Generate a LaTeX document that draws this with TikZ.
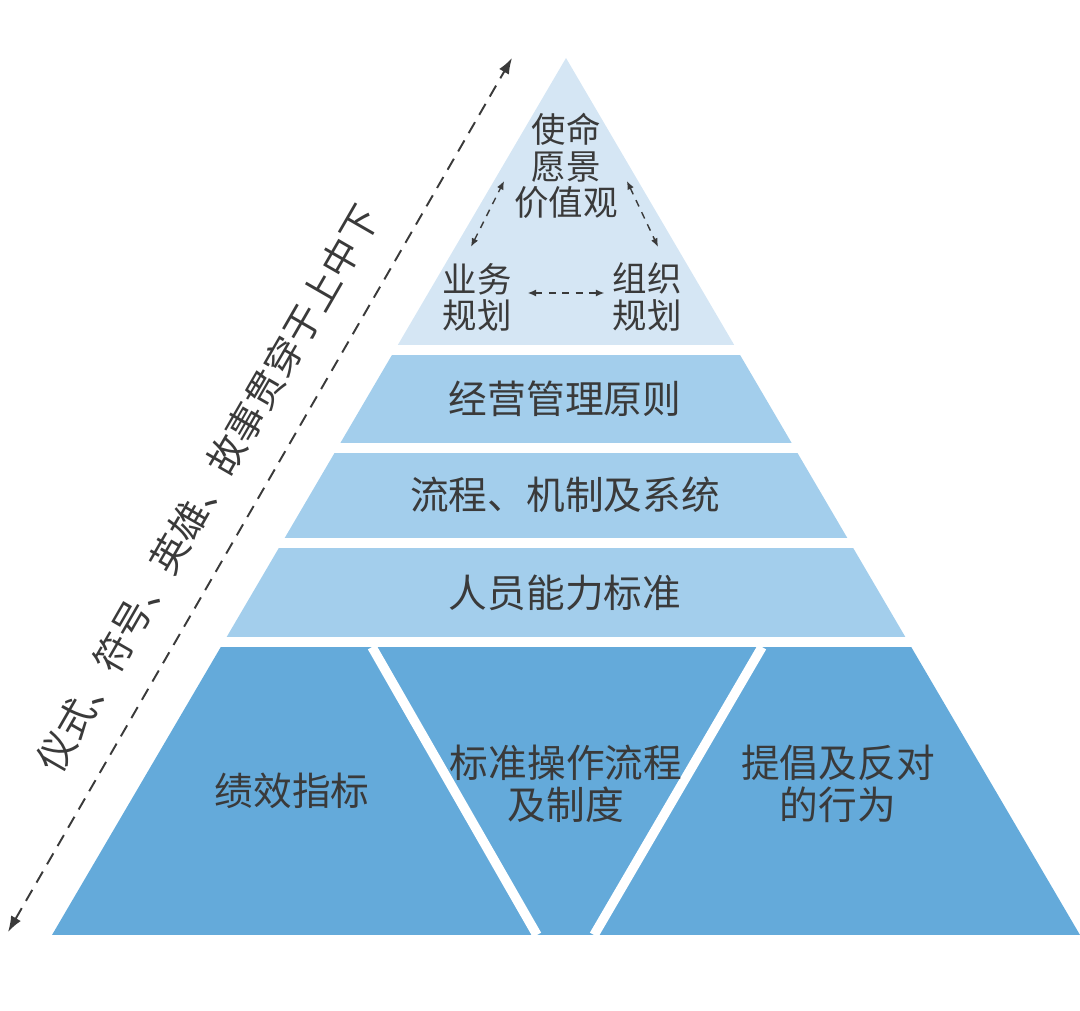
\documentclass[tikz,border=0pt]{standalone}
\usepackage{fontspec}
\newfontfamily\cjk{Noto Sans CJK SC}
\usetikzlibrary{arrows.meta}

\definecolor{topblue}{HTML}{D5E6F4}
\definecolor{midblue}{HTML}{A3CEEC}
\definecolor{lowblue}{HTML}{64AADA}
\definecolor{inkgray}{HTML}{3A3A3A}

\tikzset{
  tiertext/.style={text=inkgray, font=\cjk\fontsize{11}{11.8}\selectfont, align=center, inner sep=1pt},
  toptext/.style={tiertext, font=\cjk\fontsize{9.8}{10.3}\selectfont},
  sidetext/.style={tiertext, font=\cjk\fontsize{10.8}{12}\selectfont, inner sep=0pt},
  linkarrow/.style={{Latex[length=2.4pt,width=2pt]}-{Latex[length=2.4pt,width=2pt]}, draw=inkgray, line width=0.4pt, dash pattern=on 2pt off 1.8pt},
  sidearrow/.style={{Latex[length=4.5pt,width=3.2pt]}-{Latex[length=4.5pt,width=3.2pt]}, draw=inkgray, line width=0.55pt, dash pattern=on 3.6pt off 2.4pt}
}

\begin{document}
\begin{tikzpicture}[x=0.01cm, y=-0.01cm]
\useasboundingbox (0,0) rectangle (1080,1010);

\begin{scope}
\clip (566,58) -- (1080,935) -- (52,935) -- cycle;
\fill[topblue] (0,0) rectangle (1080,345);
\fill[midblue] (0,355) rectangle (1080,443);
\fill[midblue] (0,453) rectangle (1080,538);
\fill[midblue] (0,548) rectangle (1080,637);
\fill[lowblue] (0,647) rectangle (1080,935);
\draw[white, line width=0.095cm] (372,647) -- (537,935);
\draw[white, line width=0.095cm] (762,647) -- (594,935);
\end{scope}

\node[toptext] (mission) at (566,166) {使命\\愿景\\价值观};
\node[toptext] (biz) at (477,297) {业务\\规划};
\node[toptext] (org) at (647,297) {组织\\规划};
\node[tiertext] (principle) at (565,399) {经营管理原则};
\node[tiertext] (process) at (565,495) {流程、机制及系统};
\node[tiertext] (people) at (565,593) {人员能力标准};
\node[tiertext] (kpi) at (292,791) {绩效指标};
\node[tiertext] (sop) at (566,784) {标准操作流程\\及制度};
\node[tiertext] (conduct) at (838,784) {提倡及反对\\的行为};

\draw[linkarrow] ([shift={(-0.06cm,0.12cm)}]biz.north) -- ([shift={(-0.06cm,-0.15cm)}]mission.west);
\draw[linkarrow] ([shift={(0.05cm,-0.15cm)}]mission.east) -- ([shift={(0.11cm,0.12cm)}]org.north);
\draw[linkarrow] ([shift={(0.12cm,0.04cm)}]biz.east) -- ([shift={(-0.04cm,0.04cm)}]org.west);

\coordinate (tail) at (8,932);
\coordinate (head) at (512,58);
\draw[sidearrow] (tail) -- node[sidetext, sloped, above=0.3cm, pos=0.48] (story) {仪式、符号、英雄、故事贯穿于上中下} (head);
\end{tikzpicture}
\end{document}
